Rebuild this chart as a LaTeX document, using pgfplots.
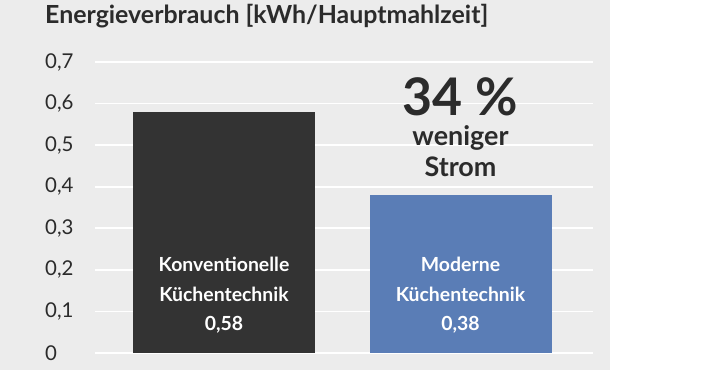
\documentclass[border=0pt]{standalone}
\usepackage{fontspec}
\setmainfont{Lato}
\usepackage{pgfplots}
\pgfplotsset{compat=1.18}
\definecolor{bg}{HTML}{ECECEC}
\definecolor{txt}{HTML}{2B2B2B}
\definecolor{darkbar}{HTML}{333333}
\definecolor{bluebar}{HTML}{5A7DB6}
\begin{document}
\begin{tikzpicture}[x=1bp,y=1bp]
\fill[bg] (0,0) rectangle (610,370);
\path (0,0) rectangle (725,370);
\node[anchor=base west, inner sep=0pt, text=txt, font=\fontsize{25}{28}\selectfont\bfseries] at (45,347) {Energieverbrauch [kWh/Hauptmahlzeit]};
\begin{axis}[
  at={(95bp,17bp)}, anchor=south west,
  scale only axis, width=498bp, height=291bp,
  xmin=0, xmax=498, ymin=0, ymax=0.7,
  axis line style={draw=none},
  tick style={draw=none},
  xtick=\empty,
  ytick={0,0.1,0.2,0.3,0.4,0.5,0.6,0.7},
  ymajorgrids,
  major grid style={white, line width=1.6bp},
  /pgf/number format/.cd, use comma, fixed, precision=1, assume math mode=true,
  /pgfplots/.cd,
  yticklabel style={anchor=west, xshift=-50bp, inner sep=0pt, text=txt, font=\fontsize{20.5}{23}\selectfont},
  clip=false,
]
\addplot[ybar, bar width=182bp, bar shift=0pt, fill=darkbar, draw=none] coordinates {(129,0.58)};
\addplot[ybar, bar width=182bp, bar shift=0pt, fill=bluebar, draw=none] coordinates {(365.5,0.38)};
\tikzset{bl/.style={anchor=base, inner sep=0pt, text=white, font=\fontsize{19.5}{22}\selectfont\bfseries}}
\node[bl] at (axis cs:129,0.1956) {Konventionelle};
\node[bl] at (axis cs:129,0.125) {Küchentechnik};
\node[bl] at (axis cs:129,0.0553) {0,58};
\node[bl] at (axis cs:365.5,0.1956) {Moderne};
\node[bl] at (axis cs:365.5,0.125) {Küchentechnik};
\node[bl] at (axis cs:365.5,0.0553) {0,38};
\node[anchor=base, inner sep=0pt, text=txt, font=\fontsize{52}{58}\selectfont\bfseries] at (axis cs:365.5,0.5725) {34 \%};
\node[anchor=base, inner sep=0pt, text=txt, font=\fontsize{27}{30}\selectfont\bfseries] at (axis cs:365.5,0.498) {weniger};
\node[anchor=base, inner sep=0pt, text=txt, font=\fontsize{27}{30}\selectfont\bfseries] at (axis cs:365.5,0.424) {Strom};
\end{axis}
\end{tikzpicture}
\end{document}
